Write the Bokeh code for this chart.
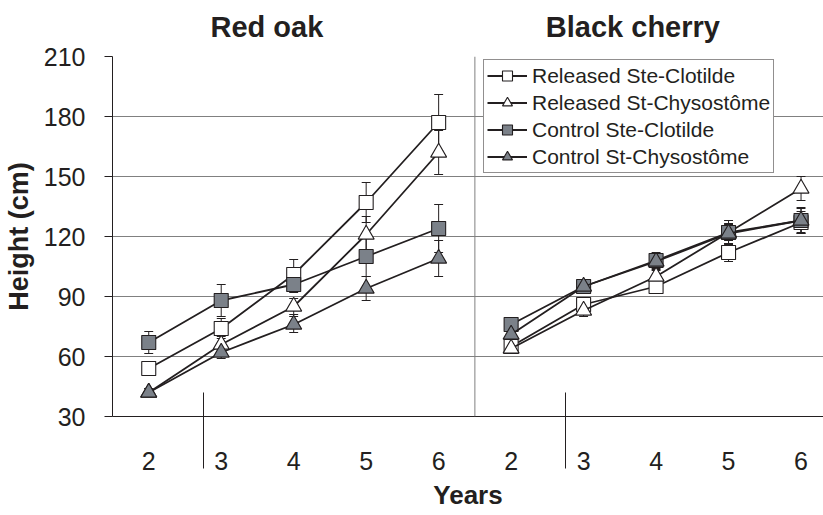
from bokeh.plotting import figure
from bokeh.models import FixedTicker, Range1d, Span, Legend, LegendItem, LinearAxis
from bokeh.embed import file_html
from bokeh.resources import INLINE

# ---------------- data ----------------
years = ["2", "3", "4", "5", "6"]
species = ["Red oak", "Black cherry"]
series_names = ["Released Ste-Clotilde", "Released St-Chysostôme",
                "Control Ste-Clotilde", "Control St-Chysostôme"]
y_ticks = [30, 60, 90, 120, 150, 180, 210]

# Red oak heights (cm) and error values
oak_rel_stecl = [54, 74, 101, 137, 177]
oak_rel_stcl_err = [3, 5, 7.5, 10, 14]
oak_rel_stch = [42, 66, 85, 121, 162]
oak_rel_stch_err = [2, 4, 4, 9, 11]
oak_ctl_stecl = [67, 88, 96, 110, 124]
oak_ctl_stecl_err = [5.5, 8, 4, 10, 12]
oak_ctl_stch = [42, 62, 76, 94, 109]
oak_ctl_stch_err = [2, 3, 4, 6, 9]

# Black cherry heights (cm) and error values
che_rel_stecl = [65, 86, 95, 112, 127]
che_rel_stecl_err = [2, 3, 3, 4.5, 5.5]
che_rel_stch = [64, 83, 100, 122, 144]
che_rel_stch_err = [2, 3, 3, 4, 6]
che_ctl_stecl = [76, 95, 108, 122, 128]
che_ctl_stecl_err = [2, 3, 4, 6, 6.5]
che_ctl_stch = [71, 95, 107.5, 121.5, 128]
che_ctl_stch_err = [2, 3, 4, 5, 6]

oak = [(oak_rel_stecl, oak_rel_stcl_err), (oak_rel_stch, oak_rel_stch_err),
       (oak_ctl_stecl, oak_ctl_stecl_err), (oak_ctl_stch, oak_ctl_stch_err)]
che = [(che_rel_stecl, che_rel_stecl_err), (che_rel_stch, che_rel_stch_err),
       (che_ctl_stecl, che_ctl_stecl_err), (che_ctl_stch, che_ctl_stch_err)]
panels = [oak, che]

# ---------------- style ----------------
FONT = "Liberation Sans"
INK = "#231f20"
GRAY_FILL = "#7b8189"
GRID = "#808080"
markers = ["square", "triangle", "square", "triangle"]
fills = ["white", "white", GRAY_FILL, GRAY_FILL]
sizes = [14, 16, 14, 16]

n = len(years)
x_end = 9.81
p = figure(width=823, height=515, x_range=Range1d(0, x_end), y_range=Range1d(30, 210),
           output_backend="svg", toolbar_location=None,
           min_border_left=107, min_border_top=56, min_border_right=0, min_border_bottom=99)
p.outline_line_color = None
p.background_fill_color = "white"
p.xgrid.visible = False
p.ygrid.ticker = FixedTicker(ticks=y_ticks)
p.ygrid.grid_line_color = GRID
p.ygrid.grid_line_width = 1

# panel divider
p.add_layout(Span(location=n, dimension="height", line_color=GRID, line_width=1))

cap = 4.5 / 73.0
legend_renderers = [[] for _ in series_names]
for pi, panel in enumerate(panels):
    xs = [pi * n + i + 0.5 for i in range(n)]
    for si, (vals, errs) in enumerate(panel):
        lo = [v - e for v, e in zip(vals, errs)]
        hi = [v + e for v, e in zip(vals, errs)]
        p.segment(x0=xs, y0=lo, x1=xs, y1=hi, line_color=INK, line_width=1)
        p.segment(x0=[x - cap for x in xs], y0=hi, x1=[x + cap for x in xs], y1=hi,
                  line_color=INK, line_width=1)
        p.segment(x0=[x - cap for x in xs], y0=lo, x1=[x + cap for x in xs], y1=lo,
                  line_color=INK, line_width=1)
    for si, (vals, errs) in enumerate(panel):
        lr = p.line(xs, vals, line_color=INK, line_width=1.8)
        sr = p.scatter(xs, vals, marker=markers[si], size=sizes[si], fill_color=fills[si],
                       line_color=INK, line_width=1.1)
        if pi == 1:
            legend_renderers[si] = [lr, sr]

# y axis
yax = p.yaxis[0]
yax.ticker = FixedTicker(ticks=y_ticks)
yax.major_tick_out = 8
yax.major_tick_in = 0
yax.minor_tick_line_color = None
yax.axis_line_color = INK
yax.major_tick_line_color = INK
yax.major_label_text_font = FONT
yax.major_label_text_font_size = "25px"
yax.major_label_text_color = INK
yax.major_label_standoff = 19
yax.axis_label = "Height (cm)"
yax.axis_label_text_font = FONT
yax.axis_label_text_font_style = "bold"
yax.axis_label_text_font_size = "27px"
yax.axis_label_text_color = INK
yax.axis_label_standoff = 7

# x axis (years) with panel separators as minor ticks
xticks = [pi * n + i + 0.5 for pi in range(len(species)) for i in range(n)]
xax = p.xaxis[0]
xax.ticker = FixedTicker(ticks=xticks, minor_ticks=[1.25, n + 1.25])
xax.major_label_overrides = {t: years[k % n] for k, t in enumerate(xticks)}
xax.major_tick_line_color = None
xax.major_tick_out = 0
xax.major_tick_in = 0
xax.minor_tick_line_color = INK
xax.minor_tick_in = 24
xax.minor_tick_out = 52
xax.axis_line_color = INK
xax.major_label_text_font = FONT
xax.major_label_text_font_size = "25px"
xax.major_label_text_color = INK
xax.major_label_standoff = -17
xax.axis_label = "Years"
xax.axis_label_text_font = FONT
xax.axis_label_text_font_style = "bold"
xax.axis_label_text_font_size = "26px"
xax.axis_label_text_color = INK
xax.axis_label_standoff = 7

# panel titles as an axis above
title_x = [2.13, 7.18]
tax = LinearAxis(ticker=FixedTicker(ticks=title_x),
                 major_label_overrides={t: s for t, s in zip(title_x, species)})
tax.axis_line_color = None
tax.major_tick_line_color = None
tax.minor_tick_line_color = None
tax.major_tick_out = 0
tax.major_tick_in = 0
tax.major_label_standoff = 14
tax.major_label_text_font = FONT
tax.major_label_text_font_style = "bold"
tax.major_label_text_font_size = "29px"
tax.major_label_text_color = INK
p.add_layout(tax, "above")

legend = Legend(items=[LegendItem(label=nm, renderers=r) for nm, r in zip(series_names, legend_renderers)],
                location=(371, 243))
legend.border_line_color = INK
legend.border_line_width = 1
legend.background_fill_color = "white"
legend.background_fill_alpha = 1
legend.label_text_font = FONT
legend.label_text_font_size = "21px"
legend.label_text_color = INK
legend.glyph_width = 40
legend.glyph_height = 25
legend.label_height = 25
legend.label_standoff = 5
legend.spacing = 2
legend.padding = 3
legend.margin = 0
p.add_layout(legend, "center")

open("out.html", "w").write(file_html(p, INLINE))
